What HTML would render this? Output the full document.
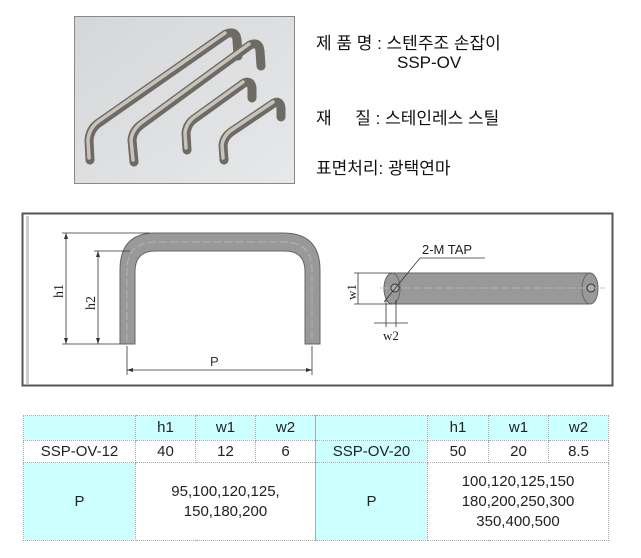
<!DOCTYPE html>
<html><head><meta charset="utf-8"><style>
body{margin:0;width:641px;height:558px;background:#fff;position:relative;overflow:hidden;font-family:"Liberation Sans","Noto Sans CJK KR",sans-serif}
.t{position:absolute;font-size:17px;color:#111;white-space:nowrap}
table{position:absolute;left:23px;top:415px;width:585px;table-layout:fixed;border-collapse:collapse;font-size:15px;color:#222}
td{border:1px dotted #aaa;text-align:center;padding:0;line-height:20px;overflow:hidden}
.c{background:#ccffff}
</style></head><body>
<svg width="641" height="558" style="position:absolute;left:0;top:0">
<defs><linearGradient id="g" x1="0" y1="0" x2="1" y2="1"><stop offset="0" stop-color="#d4d6d8"/><stop offset="1" stop-color="#e6e8ea"/></linearGradient></defs>
<rect x="74.5" y="16.5" width="220" height="167" fill="url(#g)" stroke="#888"/>
<g fill="none" stroke-linecap="round" stroke-linejoin="round">
<g stroke="#6e6a64" stroke-width="9">
<path d="M90 160 L89 140 Q90 128 100 122 L226 34 Q236 30 237 40 L238 56"/>
<path d="M134 162 L132 140 Q133 130 142 124 L250 45 Q259 41 260 51 L261 66"/>
<path d="M187 150 L186 133 Q187 124 194 119 L244 83 Q251 80 252 88 L252 98"/>
<path d="M224 160 L223 145 Q224 137 231 132 L274 103 Q280 100 281 108 L281 117"/>
</g>
<g stroke="#c8c4bc" stroke-width="3.5">
<path d="M89 158 L88 140 Q89 128 99 121 L225 33"/>
<path d="M133 160 L131 140 Q132 130 141 123 L249 44"/>
<path d="M186 148 L185 133 Q186 124 193 118 L243 82"/>
<path d="M223 158 L222 145 Q223 137 230 131 L273 102"/>
</g></g>
<rect x="22.5" y="213.5" width="590" height="172" fill="#fff" stroke="#555" stroke-width="2"/>
<rect x="26" y="216" width="3" height="168" fill="#ccc"/>
<path d="M120 344 L120 270 Q120 233 155 233 L283 233 Q320 233 320 270 L320 344 L305 344 L305 272 Q305 251 285 251 L155 251 Q135 251 135 272 L135 344 Z" fill="#999" stroke="#666"/>
<path d="M127 342 L127 270 Q127 242 156 242 L284 242 Q312 242 312 270 L312 342" fill="none" stroke="#bbb" stroke-dasharray="8 3" stroke-width="0.8"/>
<g stroke="#333" stroke-width="0.8" fill="none">
<line x1="62" y1="233" x2="150" y2="233"/><line x1="62" y1="344" x2="120" y2="344"/>
<line x1="66" y1="233" x2="66" y2="344"/>
<line x1="94" y1="251" x2="130" y2="251"/>
<line x1="98" y1="251" x2="98" y2="344"/>
<line x1="127" y1="346" x2="127" y2="375"/><line x1="312" y1="346" x2="312" y2="375"/>
<line x1="127" y1="370" x2="312" y2="370"/>
</g>
<g fill="#333"><path d="M66 233 l-2 6 h4z M66 344 l-2 -6 h4z M98 251 l-2 6 h4z M98 344 l-2 -6 h4z M127 370 l6 -2 v4z M312 370 l-6 -2 v4z"/></g>
<text x="210" y="366" font-size="13" font-family="Liberation Sans" fill="#333">P</text>
<text transform="translate(63 298) rotate(-90)" font-size="14" font-family="Liberation Serif" fill="#222">h1</text>
<text transform="translate(95 310) rotate(-90)" font-size="14" font-family="Liberation Serif" fill="#222">h2</text>
<rect x="392" y="273" width="198" height="31" fill="#999" stroke="#666"/>
<ellipse cx="392" cy="288.5" rx="8" ry="15.5" fill="#999" stroke="#666"/>
<ellipse cx="590" cy="288.5" rx="8" ry="15.5" fill="#999" stroke="#666"/>
<circle cx="395" cy="288" r="4" fill="#aaa" stroke="#333"/>
<circle cx="591" cy="288" r="4" fill="#aaa" stroke="#333"/>
<line x1="380" y1="288" x2="605" y2="288" stroke="#bbb" stroke-dasharray="8 3" stroke-width="0.8"/>
<g stroke="#333" stroke-width="0.8" fill="none">
<line x1="354" y1="273" x2="392" y2="273"/><line x1="354" y1="304" x2="392" y2="304"/>
<line x1="358" y1="273" x2="358" y2="304"/>
<line x1="386" y1="300" x2="386" y2="327"/><line x1="396" y1="300" x2="396" y2="327"/>
<line x1="374" y1="323" x2="408" y2="323"/>
<line x1="384" y1="302" x2="420" y2="258"/><line x1="420" y1="258" x2="485" y2="258"/>
</g>
<text x="422" y="254" font-size="13" font-family="Liberation Sans" fill="#222">2-M TAP</text>
<text transform="translate(356 300) rotate(-90)" font-size="13" font-family="Liberation Serif" fill="#222">w1</text>
<text x="383" y="340" font-size="13" font-family="Liberation Serif" fill="#222">w2</text>
</svg>
<div class="t" style="left:316px;top:29px">제 품 명 : 스텐주조 손잡이</div>
<div class="t" style="left:397px;top:53px">SSP-OV</div>
<div class="t" style="left:316px;top:104px">재 &nbsp;&nbsp;&nbsp; 질 : 스테인레스 스틸</div>
<div class="t" style="left:316px;top:154px">표면처리: 광택연마</div>
<table>
<colgroup><col style="width:112px"><col style="width:60px"><col style="width:60px"><col style="width:60px"><col style="width:112px"><col style="width:61px"><col style="width:60px"><col style="width:60px"></colgroup>
<tr style="height:25px"><td class="c"></td><td class="c">h1</td><td class="c">w1</td><td class="c">w2</td><td class="c" style="border-left:1px solid #aaa"></td><td class="c">h1</td><td class="c">w1</td><td class="c">w2</td></tr>
<tr style="height:22px"><td>SSP-OV-12</td><td>40</td><td>12</td><td>6</td><td class="c" style="border-left:1px solid #aaa">SSP-OV-20</td><td>50</td><td>20</td><td>8.5</td></tr>
<tr style="height:78px"><td class="c">P</td><td colspan="3">95,100,120,125,<br>150,180,200</td><td class="c" style="border-left:1px solid #aaa">P</td><td colspan="3">100,120,125,150<br>180,200,250,300<br>350,400,500</td></tr>
</table>
</body></html>
